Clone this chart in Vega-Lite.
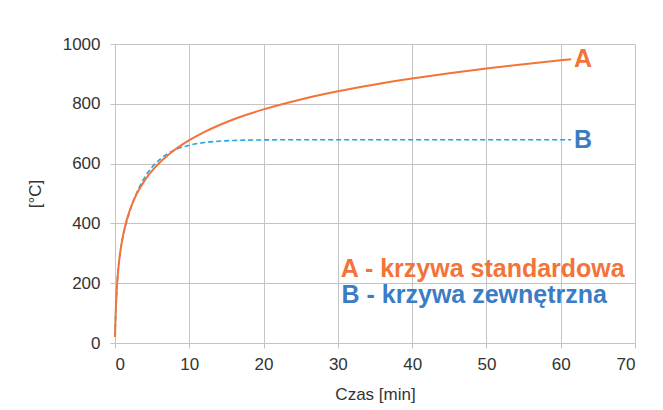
{
  "$schema": "https://vega.github.io/schema/vega-lite/v6.json",
  "width": 520,
  "height": 299,
  "autosize": {"type": "none"},
  "padding": {"left": 115, "top": 44, "right": 28, "bottom": 67},
  "background": "white",
  "config": {
    "font": "Liberation Sans",
    "view": {"stroke": null},
    "axis": {
      "gridColor": "#c4c4c4",
      "domainColor": "#c4c4c4",
      "tickColor": "#c4c4c4",
      "tickSize": 5,
      "labelFontSize": 17,
      "labelColor": "#333333",
      "titleFontSize": 17,
      "titleFontWeight": "normal",
      "titleColor": "#333333"
    }
  },
  "datasets": {
    "curves": [
      {"t": 0, "T": 20, "series": "A"},
      {"t": 0.1, "T": 108.1, "series": "A"},
      {"t": 0.25, "T": 184.6, "series": "A"},
      {"t": 0.5, "T": 261.2, "series": "A"},
      {"t": 0.75, "T": 311.6, "series": "A"},
      {"t": 1, "T": 349.2, "series": "A"},
      {"t": 1.5, "T": 404.3, "series": "A"},
      {"t": 2, "T": 444.5, "series": "A"},
      {"t": 2.5, "T": 476.2, "series": "A"},
      {"t": 3, "T": 502.3, "series": "A"},
      {"t": 4, "T": 543.9, "series": "A"},
      {"t": 5, "T": 576.4, "series": "A"},
      {"t": 6, "T": 603.1, "series": "A"},
      {"t": 7, "T": 625.8, "series": "A"},
      {"t": 8, "T": 645.5, "series": "A"},
      {"t": 9, "T": 662.8, "series": "A"},
      {"t": 10, "T": 678.4, "series": "A"},
      {"t": 12, "T": 705.4, "series": "A"},
      {"t": 14, "T": 728.3, "series": "A"},
      {"t": 16, "T": 748.2, "series": "A"},
      {"t": 18, "T": 765.7, "series": "A"},
      {"t": 20, "T": 781.3, "series": "A"},
      {"t": 25, "T": 814.6, "series": "A"},
      {"t": 30, "T": 841.8, "series": "A"},
      {"t": 35, "T": 864.8, "series": "A"},
      {"t": 40, "T": 884.7, "series": "A"},
      {"t": 45, "T": 902.3, "series": "A"},
      {"t": 50, "T": 918.1, "series": "A"},
      {"t": 55, "T": 932.3, "series": "A"},
      {"t": 60, "T": 945.3, "series": "A"},
      {"t": 61.4, "T": 948.8, "series": "A"},
      {"t": 0, "T": 20, "series": "B"},
      {"t": 0.1, "T": 99.6, "series": "B"},
      {"t": 0.25, "T": 181.6, "series": "B"},
      {"t": 0.5, "T": 262.7, "series": "B"},
      {"t": 0.75, "T": 311.4, "series": "B"},
      {"t": 1, "T": 346.1, "series": "B"},
      {"t": 1.5, "T": 398.7, "series": "B"},
      {"t": 2, "T": 440.8, "series": "B"},
      {"t": 2.5, "T": 476.3, "series": "B"},
      {"t": 3, "T": 506.4, "series": "B"},
      {"t": 4, "T": 554.0, "series": "B"},
      {"t": 5, "T": 588.5, "series": "B"},
      {"t": 6, "T": 613.5, "series": "B"},
      {"t": 7, "T": 631.7, "series": "B"},
      {"t": 8, "T": 645.0, "series": "B"},
      {"t": 9, "T": 654.5, "series": "B"},
      {"t": 10, "T": 661.5, "series": "B"},
      {"t": 12, "T": 670.3, "series": "B"},
      {"t": 14, "T": 674.9, "series": "B"},
      {"t": 16, "T": 677.3, "series": "B"},
      {"t": 18, "T": 678.6, "series": "B"},
      {"t": 20, "T": 679.2, "series": "B"},
      {"t": 25, "T": 679.8, "series": "B"},
      {"t": 30, "T": 680, "series": "B"},
      {"t": 40, "T": 680, "series": "B"},
      {"t": 50, "T": 680, "series": "B"},
      {"t": 61.4, "T": 680, "series": "B"}
    ],
    "notes": [
      {"label": "A - krzywa standardowa", "series": "A"},
      {"label": "B - krzywa zewnętrzna", "series": "B"}
    ]
  },
  "layer": [
    {
      "data": {"name": "curves"},
      "transform": [{"filter": "datum.series === 'B'"}],
      "mark": {"type": "line", "interpolate": "monotone", "color": "#22a6e3", "strokeWidth": 1.6, "strokeDash": [5, 3]},
      "encoding": {
        "x": {
          "field": "t",
          "type": "quantitative",
          "scale": {"domain": [0, 70], "nice": false},
          "axis": {"values": [0, 10, 20, 30, 40, 50, 60, 70], "title": "Czas [min]", "labelPadding": 8, "titlePadding": 14}
        },
        "y": {
          "field": "T",
          "type": "quantitative",
          "scale": {"domain": [0, 1000], "nice": false},
          "axis": {"values": [0, 200, 400, 600, 800, 1000], "format": "d", "title": "[°C]", "labelPadding": 10, "titlePadding": 18}
        }
      }
    },
    {
      "data": {"name": "curves"},
      "transform": [{"filter": "datum.series === 'A'"}],
      "mark": {"type": "line", "interpolate": "monotone", "color": "#f37338", "strokeWidth": 2},
      "encoding": {
        "x": {"field": "t", "type": "quantitative"},
        "y": {"field": "T", "type": "quantitative"}
      }
    },
    {
      "data": {"name": "curves"},
      "transform": [{"filter": "datum.t === 61.4"}],
      "mark": {"type": "text", "align": "left", "baseline": "middle", "dx": 3, "fontSize": 25, "fontWeight": "bold"},
      "encoding": {
        "x": {"field": "t", "type": "quantitative"},
        "y": {"field": "T", "type": "quantitative"},
        "text": {"field": "series"},
        "color": {"field": "series", "type": "nominal", "scale": {"domain": ["A", "B"], "range": ["#f37338", "#3b7dc4"]}, "legend": null}
      }
    },
    {
      "data": {"name": "notes"},
      "transform": [{"filter": "datum.series === 'A'"}],
      "mark": {"type": "text", "align": "left", "baseline": "middle", "fontSize": 25, "fontWeight": "bold", "color": "#f37338"},
      "encoding": {
        "x": {"datum": 30.4},
        "y": {"datum": 247},
        "text": {"field": "label"}
      }
    },
    {
      "data": {"name": "notes"},
      "transform": [{"filter": "datum.series === 'B'"}],
      "mark": {"type": "text", "align": "left", "baseline": "middle", "fontSize": 25, "fontWeight": "bold", "color": "#3b7dc4"},
      "encoding": {
        "x": {"datum": 30.5},
        "y": {"datum": 159},
        "text": {"field": "label"}
      }
    }
  ]
}
